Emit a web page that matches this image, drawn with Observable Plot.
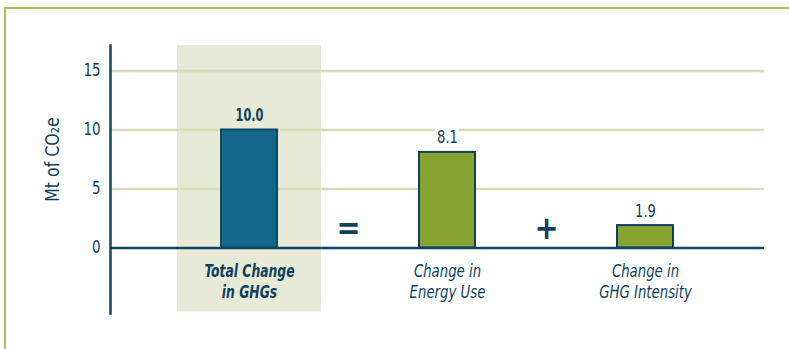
<!DOCTYPE html>
<html>
<head>
<meta charset="utf-8">
<script src="https://cdn.jsdelivr.net/npm/d3@7"></script>
<script src="https://cdn.jsdelivr.net/npm/@observablehq/plot@0.6"></script>
<style>
  html, body { margin: 0; padding: 0; background: #fff; }
  #wrap { position: relative; width: 789px; height: 349px; overflow: hidden; }
  #edge {
    position: absolute; left: 4px; top: 7px; right: 0; bottom: 0;
    border-top: 2px solid #a9bf5d; border-left: 2px solid #a9bf5d;
    pointer-events: none;
  }
  svg { display: block; }
</style>
</head>
<body>
<div id="wrap"><div id="edge"></div></div>
<script>
// Decomposition of the change in greenhouse-gas emissions (Mt of CO2e)
const categories = ["Total Change\nin GHGs", "Change in\nEnergy Use", "Change in\nGHG Intensity"];
const values = [10.0, 8.1, 1.9];
const operators = ["=", "+"];
const yTicks = [0, 5, 10, 15];
const yLabel = "Mt of CO₂e";

const navy = "#0e3f5c";
const FONT = "'DejaVu Sans Condensed', 'Liberation Sans Narrow', 'Arial Narrow', sans-serif";

const bars = categories.map((c, i) => ({ category: c, value: values[i], total: i === 0 }));
const xOrder = [categories[0], operators[0], categories[1], operators[1], categories[2]];
const yDomain = [-5.55, 17.16];

// render hook: squeeze each glyph run horizontally for a condensed typeface look
const narrow = s => (index, scales, values, dims, ctx, next) => {
  const g = next(index, scales, values, dims, ctx);
  g.querySelectorAll("text").forEach(t => {
    const tr = t.getAttribute("transform") || "";
    t.setAttribute("transform", `${tr} scale(${s},1)`);
  });
  return g;
};

const chart = Plot.plot({
  width: 789,
  height: 349,
  marginTop: 45,
  marginBottom: 36,
  marginLeft: 110,
  marginRight: 25,
  style: { fontFamily: FONT, color: navy, background: "transparent", overflow: "visible" },
  x: { domain: xOrder, paddingInner: 0.433, paddingOuter: 0.9965, align: 0.551, axis: null },
  y: { domain: yDomain, axis: null },
  marks: [
    // highlighted column behind the total
    Plot.barY([categories[0]], {
      x: d => d, y1: yDomain[0], y2: yDomain[1],
      fill: "#e6ead7", insetLeft: -44, insetRight: -44, insetBottom: 1.5
    }),
    Plot.ruleY(yTicks.filter(t => t > 0), { stroke: "#d5dcb8", strokeWidth: 2.5 }),
    // y tick labels
    Plot.text(yTicks, {
      frameAnchor: "left", y: d => d, text: d => String(d), textAnchor: "end",
      dx: -10, fontSize: 17, fill: navy, render: narrow(0.88)
    }),
    Plot.barY(bars, {
      x: "category", y: "value",
      fill: d => d.total ? "#136889" : "#87a433",
      stroke: d => d.total ? "#0c4a66" : "#12405c",
      strokeWidth: 2
    }),
    Plot.ruleY([0], { stroke: "#0f4563", strokeWidth: 2.5 }),
    Plot.frame({ anchor: "left", stroke: "#0f4563", strokeWidth: 2.5 }),
    // value labels
    Plot.text(bars.filter(d => d.total), {
      x: "category", y: "value", text: d => d.value.toFixed(1),
      lineAnchor: "bottom", dy: -9, fontSize: 17, fontWeight: "bold", fill: navy,
      render: narrow(0.74)
    }),
    Plot.text(bars.filter(d => !d.total), {
      x: "category", y: "value", text: d => d.value.toFixed(1),
      lineAnchor: "bottom", dy: -9, fontSize: 17, fill: navy,
      stroke: "white", strokeWidth: 10, render: narrow(0.86)
    }),
    // category labels
    Plot.text(bars.filter(d => d.total), {
      x: "category", y: 0, text: "category", lineAnchor: "top", dy: 13.5,
      fontSize: 17.4, fontStyle: "italic", fontWeight: "bold", lineHeight: 1.24, fill: navy,
      render: narrow(0.79)
    }),
    Plot.text(bars.filter(d => !d.total), {
      x: "category", y: 0, text: "category", lineAnchor: "top", dy: 14.5,
      fontSize: 17.4, fontStyle: "italic", lineHeight: 1.2, fill: navy,
      render: narrow(0.85)
    }),
    // arithmetic operators between the columns
    Plot.text(operators, {
      x: d => d, y: 0, text: d => d, dy: -19,
      fontSize: 32, fontWeight: "bold", fill: navy
    }),
    // y-axis title
    Plot.text([yLabel], {
      frameAnchor: "left", y: (yTicks[0] + yTicks[yTicks.length - 1]) / 2,
      text: d => d, rotate: -90, textAnchor: "middle", dx: -58, fontSize: 19.5, fill: navy,
      render: narrow(0.9)
    })
  ]
});

document.getElementById("wrap").prepend(chart);
</script>
</body>
</html>
